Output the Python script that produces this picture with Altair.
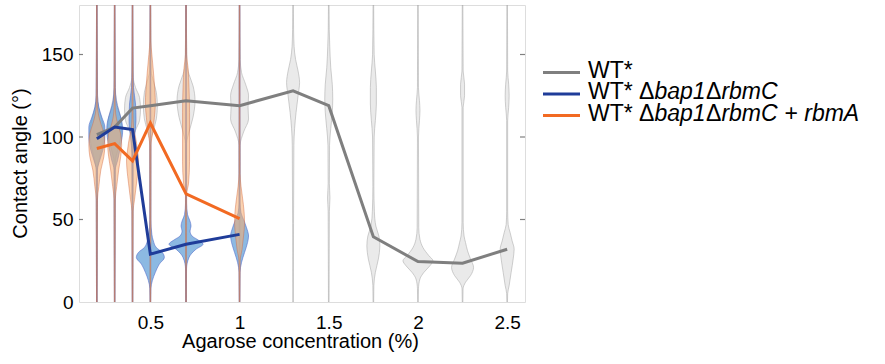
import altair as alt
import pandas as pd

# ---------------- data ----------------
strains = ["WT*", "WT* Δbap1ΔrbmC", "WT* Δbap1ΔrbmC + rbmA"]

conc_wt = [0.2, 0.3, 0.4, 0.5, 0.7, 1.0, 1.3, 1.5, 1.75, 2.0, 2.25, 2.5]
median_wt = [101.5, 106, 117.5, 119, 122, 119, 128, 119, 39.5, 24.5, 23.5, 32]

conc_mut = [0.2, 0.3, 0.4, 0.5, 0.7, 1.0]
median_bap = [99, 106, 104.5, 29, 35, 41]
median_rbma = [93, 96, 85.5, 108.5, 65.5, 50.5]

# violin profiles: (contact angle, relative density) per concentration
violins_wt = [
    [(80, 0.6), (88, 3), (96, 6), (102, 7), (108, 6), (115, 3), (122, 1), (130, 0.5)],
    [(85, 0.6), (92, 3), (100, 6), (106, 7), (112, 6), (119, 3), (126, 1), (134, 0.5)],
    [(98, 0.6), (104, 3), (110, 7), (117, 8), (124, 7), (130, 3), (136, 0.8)],
    [(98, 0.6), (104, 3), (111, 6), (119, 7), (127, 6), (134, 3), (140, 0.8)],
    [(96, 0.6), (103, 3), (112, 7), (122, 9), (131, 7), (138, 3), (145, 0.8)],
    [(95, 0.6), (103, 4), (111, 9), (118, 8.5), (125, 9), (132, 6), (139, 2), (147, 0.7)],
    [(95, 0.8), (105, 1.5), (115, 3), (125, 5), (133, 6.5), (140, 5), (147, 2.5), (155, 1), (165, 0.5)],
    [(55, 0.6), (63, 1.2), (72, 0.6), (95, 0.8), (105, 2), (115, 3.5), (123, 4), (132, 3.5), (142, 2), (155, 1), (165, 0.5)],
    [(10, 0.5), (18, 2), (26, 5), (34, 6.5), (40, 5.5), (46, 2.5), (55, 1), (70, 0.5),
     (100, 0.8), (110, 2), (120, 3), (130, 3), (140, 2), (150, 0.8)],
    [(8, 0.5), (14, 2), (18, 6), (22, 12), (25, 15), (28, 11), (33, 5), (38, 2), (45, 0.8),
     (100, 0.5), (110, 1.5), (116, 2), (122, 1.5), (130, 0.5)],
    [(8, 0.5), (12, 3), (16, 8), (21, 11), (26, 8), (31, 5), (36, 3), (40, 1.5), (48, 0.6),
     (118, 0.6), (125, 2), (132, 2), (140, 0.6)],
    [(5, 0.5), (10, 2), (18, 4), (26, 6), (32, 7), (37, 5), (42, 3), (47, 1), (55, 0.5),
     (110, 0.5), (118, 1.5), (125, 2), (132, 1.5), (140, 0.5)],
]
violins_bap = [
    [(80, 0.6), (86, 3), (92, 6), (100, 8), (106, 8), (112, 5), (118, 2), (125, 0.7)],
    [(80, 0.6), (86, 3), (95, 6), (104, 8), (110, 7), (116, 4), (122, 1.5), (130, 0.6)],
    [(90, 0.6), (100, 2), (110, 3.5), (120, 3), (130, 1), (140, 0.5)],
    [(8, 0.5), (13, 2), (18, 5), (23, 9), (27, 14), (30, 12), (33, 6), (37, 3), (41, 1.5), (50, 0.5)],
    [(20, 0.5), (27, 3), (32, 10), (35, 17), (38, 11), (40, 6), (43, 4), (46, 5), (49, 4), (53, 1.5), (60, 0.5)],
    [(18, 0.5), (24, 2), (30, 5), (36, 8), (40, 9), (45, 7), (50, 4), (54, 1.5), (60, 0.5)],
]
violins_rbma = [
    [(62, 0.6), (70, 2), (80, 4), (88, 7), (95, 8), (102, 7), (108, 4), (114, 1.5), (120, 0.5)],
    [(62, 0.6), (70, 2), (80, 4), (88, 6), (95, 7), (102, 6), (108, 3), (114, 1), (120, 0.5)],
    [(55, 0.6), (62, 2), (72, 4), (80, 5.5), (86, 6), (92, 5), (100, 3), (106, 1), (115, 0.5)],
    [(95, 0.6), (103, 2.5), (112, 4), (120, 5), (128, 4.5), (140, 3), (150, 1.5), (158, 0.5)],
    [(65, 0.6), (72, 2.5), (85, 3.5), (100, 3.5), (115, 3.5), (130, 3), (142, 2), (150, 0.6)],
    [(25, 0.6), (32, 2.5), (40, 4), (48, 5), (55, 4.5), (63, 3), (70, 1.5), (78, 0.5)],
]

y_ticks = [0, 50, 100, 150]
x_ticks = [0.5, 1, 1.5, 2, 2.5]

# ---------------- styling ----------------
W, H = 446, 297
X_DOM = [0.1, 2.6]
Y_DOM = [0, 180]
DENS_SCALE = (X_DOM[1] - X_DOM[0]) / W  # one density unit = one pixel
FONT = "Liberation Sans"
GRAY, BLUE, ORANGE = "#7f7f7f", "#1f3c99", "#f26a22"
TICK_FS, TITLE_FS = 19, 20

xs = alt.Scale(domain=X_DOM, nice=False, zero=False)
ys = alt.Scale(domain=Y_DOM, nice=False, zero=True)


def violin_table(name, concs, profiles):
    rows = []
    for i, (c, prof) in enumerate(zip(concs, profiles)):
        pts = [(Y_DOM[0], 0.3)] + list(prof) + [(Y_DOM[1], 0.3)]
        for a, d in pts:
            rows.append({"strain": name, "vid": f"v{i}", "conc": c, "angle": a, "dens": d})
    return pd.DataFrame(rows)


def violin_layer(df, fill, fill_op, stroke, stroke_op):
    return (
        alt.Chart(df)
        .transform_calculate(
            lo=f"datum.conc - datum.dens * {DENS_SCALE}",
            hi=f"datum.conc + datum.dens * {DENS_SCALE}",
        )
        .mark_area(orient="horizontal", interpolate="monotone", fill=fill, fillOpacity=fill_op,
                   stroke=stroke, strokeOpacity=stroke_op, strokeWidth=0.9, clip=True)
        .encode(
            y=alt.Y("angle:Q", scale=ys),
            x=alt.X("lo:Q", scale=xs),
            x2="hi:Q",
            detail="vid:N",
        )
    )


v_wt = violin_layer(violin_table(strains[0], conc_wt, violins_wt), "#dcdcdc", 0.6, "#a8a8a8", 0.6)
v_bap = violin_layer(violin_table(strains[1], conc_mut, violins_bap), "#5b9bd5", 0.7, "#4a62c8", 0.6)
v_rbma = violin_layer(violin_table(strains[2], conc_mut, violins_rbma), "#f8ad70", 0.55, "#d06a45", 0.5)


def line_layer(concs, vals, color):
    df = pd.DataFrame({"conc": concs, "angle": vals})
    return alt.Chart(df).mark_line(color=color, strokeWidth=3, clip=True).encode(
        x=alt.X("conc:Q", scale=xs,
                axis=alt.Axis(values=x_ticks, format="~g", title="Agarose concentration (%)",
                              tickSize=0, domain=False, grid=False, labelFont=FONT,
                              labelFontSize=TICK_FS, labelColor="black", labelBaseline="alphabetic",
                              labelPadding=26.5, titleFont=FONT, titleFontSize=TITLE_FS,
                              titleFontWeight="normal", titleColor="black",
                              titleBaseline="alphabetic", titleY=45.5, titleX=221)),
        y=alt.Y("angle:Q", scale=ys,
                axis=alt.Axis(values=y_ticks, title="Contact angle (°)", tickSize=0, domain=False,
                              grid=False, labelFont=FONT, labelFontSize=TICK_FS, labelColor="black",
                              labelPadding=6, titleFont=FONT, titleFontSize=TITLE_FS,
                              titleFontWeight="normal", titleColor="black", titleAngle=-90,
                              titleBaseline="middle", titleX=-59, titleY=158)),
    )


l_wt = line_layer(conc_wt, median_wt, GRAY)
l_bap = line_layer(conc_mut, median_bap, BLUE)
l_rbma = line_layer(conc_mut, median_rbma, ORANGE)

# inward ticks on left and right frame
tick_df = pd.DataFrame({"v": y_ticks[1:]})
ticks_left = alt.Chart(tick_df).mark_rule(color="#808080", strokeWidth=1.2).encode(
    y=alt.Y("v:Q", scale=ys), x=alt.value(0), x2=alt.value(4))
ticks_right = alt.Chart(tick_df).mark_rule(color="#808080", strokeWidth=1.2).encode(
    y=alt.Y("v:Q", scale=ys), x=alt.value(W - 5), x2=alt.value(W))

# ---------------- custom legend (mixed italics) ----------------
ARIAL = {"W": 944, "T": 611, "*": 389, " ": 278, "Δ": 668, "b": 556, "a": 556, "p": 556,
         "1": 556, "r": 333, "m": 833, "C": 722, "+": 584, "A": 667}
LEG_FS = 23
LEG_X0, LEG_X1, LEG_TX = 464, 501, 509
LEG_Y = [67.5, 89, 110.5]
pieces = [
    [("WT*", "n")],
    [("WT*", "n"), (" ", None), ("Δ", "n"), ("bap1", "i"), ("Δ", "n"), ("rbmC", "i")],
    [("WT*", "n"), (" ", None), ("Δ", "n"), ("bap1", "i"), ("Δ", "n"), ("rbmC", "i"),
     (" ", None), ("+", "n"), (" ", None), ("rbmA", "i")],
]
txt_rows = []
for r, row in enumerate(pieces):
    x = LEG_TX
    for t, s in row:
        if s is not None:
            txt_rows.append({"t": t, "s": s, "px": x, "py": LEG_Y[r] + 5})
        x += sum(ARIAL[ch] for ch in t) * LEG_FS / 1000.0 + (0.4 if s == "i" else 0)
txt_df = pd.DataFrame(txt_rows)
leg_lines = pd.DataFrame({"strain": strains, "py": LEG_Y, "x0": LEG_X0, "x1": LEG_X1})

leg_rule = alt.Chart(leg_lines).mark_rule(strokeWidth=3).encode(
    x=alt.X("x0:Q", scale=None), x2="x1:Q", y=alt.Y("py:Q", scale=None),
    color=alt.Color("strain:N", scale=alt.Scale(domain=strains, range=[GRAY, BLUE, ORANGE]), legend=None),
)
leg_up = alt.Chart(txt_df).transform_filter("datum.s == 'n'").mark_text(
    font=FONT, fontSize=LEG_FS, align="left", baseline="alphabetic", color="black"
).encode(x=alt.X("px:Q", scale=None), y=alt.Y("py:Q", scale=None), text="t:N")
leg_it = alt.Chart(txt_df).transform_filter("datum.s == 'i'").mark_text(
    font=FONT, fontSize=LEG_FS, align="left", baseline="alphabetic", color="black", fontStyle="italic"
).encode(x=alt.X("px:Q", scale=None), y=alt.Y("py:Q", scale=None), text="t:N")

chart = (
    alt.layer(v_wt, v_bap, v_rbma, l_wt, l_bap, l_rbma, ticks_left, ticks_right,
              leg_rule, leg_up, leg_it)
    .resolve_scale(x="shared", y="shared")
    .properties(width=W, height=H, padding={"left": 79, "top": 5, "right": 360, "bottom": 62},
                autosize=alt.AutoSizeParams(type="none"))
    .configure_view(stroke="#808080", strokeWidth=1.5)
    .configure(background="white")
)

chart.save("out.html", embed_options={"renderer": "svg", "actions": False})
